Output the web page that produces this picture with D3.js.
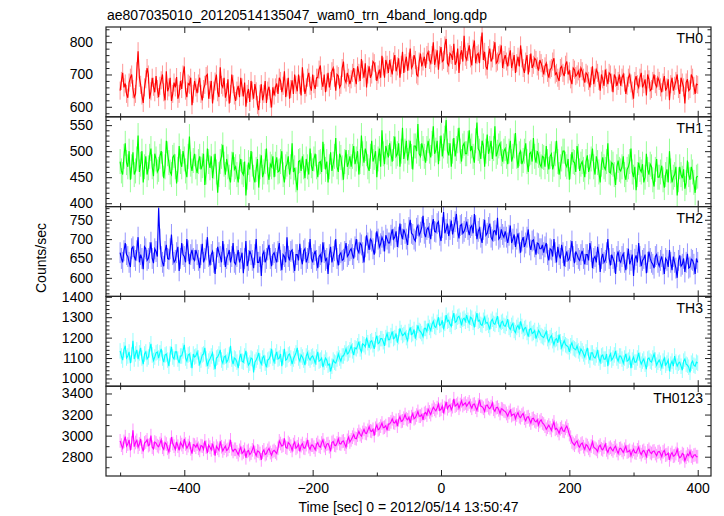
<!DOCTYPE html>
<html><head><meta charset="utf-8">
<script src="https://cdn.jsdelivr.net/npm/d3@7"></script>
<style>body{margin:0;background:#fff}svg{display:block}text{font-family:"Liberation Sans",Arial,Helvetica,sans-serif}</style>
</head><body><svg id="c" width="724" height="516"></svg>
<script>
const title = "ae807035010_20120514135047_wam0_trn_4band_long.qdp";
const xLabel = "Time [sec] 0 = 2012/05/14 13:50:47";
const yLabel = "Counts/sec";
const bandNames = ["TH0", "TH1", "TH2", "TH3", "TH0123"];
const bandColors = ["#ff0000", "#00ff00", "#0000ff", "#00ffff", "#ff00ff"];
const tStart = -500, tStep = 2;

const th0 = [
650,680,705,660,672,640,628,675,690,700,655,630,640,710,772,690,668,635,612,660,685,720,700,625,648,690,662,645,695,655,
630,665,682,700,645,620,710,648,660,690,618,640,675,660,692,625,640,680,655,700,725,650,630,672,668,690,605,640,680,660,
642,672,690,640,620,655,668,695,700,625,652,680,610,650,678,700,645,630,722,668,660,690,628,645,685,610,640,700,670,635,
618,650,665,630,690,660,632,675,600,640,655,615,680,650,625,670,648,605,590,640,670,620,640,680,612,650,662,625,598,660,
635,660,672,640,690,680,645,665,710,630,660,690,625,655,682,640,700,668,648,700,668,635,722,675,640,660,690,705,665,650,
700,670,655,690,690,715,728,680,662,700,645,675,705,660,680,710,720,690,650,700,695,660,668,720,740,685,675,705,690,670,
685,705,720,690,670,725,705,680,748,715,690,735,660,700,725,690,700,740,735,710,680,700,715,690,758,725,690,745,730,705,
745,720,700,740,760,710,725,750,690,730,770,705,735,755,712,740,780,720,728,760,745,700,695,740,765,725,740,755,720,760,
770,745,735,760,800,730,750,775,715,760,785,740,745,790,810,735,728,765,760,745,795,730,740,780,705,760,775,740,820,755,
745,770,790,750,728,780,805,735,760,765,735,790,830,745,770,725,715,760,780,740,750,775,800,735,740,760,765,790,720,745,
760,740,725,755,775,720,740,760,705,735,755,725,790,750,720,705,740,760,700,735,765,720,730,750,745,725,712,745,735,720,
700,725,735,705,690,715,720,740,750,700,705,690,680,720,725,705,695,730,740,700,710,685,670,720,715,695,700,710,690,720,
710,690,675,705,700,680,660,695,725,670,690,715,705,680,650,700,685,665,715,690,670,705,700,675,645,700,690,665,680,700,
665,690,700,675,640,665,690,700,672,650,625,680,695,670,660,690,705,660,670,685,635,700,685,650,655,680,700,670,662,690,
680,660,645,675,695,650,660,685,620,670,690,650,665,680,700,655,640,690,675,660,610,675,685,650,655,700,690,665,640,670,
668];
const th1 = [
480,462,455,490,515,478,470,500,445,470,498,455,462,485,530,460,475,500,440,470,490,455,468,490,505,470,452,495,485,460,
465,490,500,475,448,470,520,495,478,460,455,488,492,470,438,465,510,480,470,500,485,462,450,490,528,475,462,482,495,470,
458,480,490,465,472,495,435,460,505,480,468,490,448,470,495,460,420,455,480,490,512,475,455,485,470,450,440,475,498,465,
470,455,440,470,485,460,455,480,415,450,478,465,500,475,450,440,465,485,430,470,492,450,460,480,505,460,445,475,470,490,
450,475,488,460,462,480,500,455,440,470,475,490,455,470,515,460,468,445,425,480,482,462,490,470,448,485,470,455,505,472,
462,485,495,470,450,478,480,460,518,490,465,480,440,470,498,462,475,490,525,470,460,495,488,468,445,480,502,470,478,490,
470,490,510,475,485,500,455,480,530,495,478,505,495,470,462,490,520,480,488,500,450,485,505,470,540,495,475,510,498,488,
515,495,480,505,528,490,495,515,470,500,545,485,500,520,482,498,520,490,465,510,510,500,552,495,490,515,505,490,478,505,
520,500,488,515,548,495,502,520,475,505,530,490,510,525,560,500,492,515,470,500,525,490,505,520,545,500,480,510,515,495,
495,515,540,500,510,490,478,520,555,505,500,485,520,510,470,500,532,495,505,520,485,505,548,490,498,510,515,495,480,500,
505,490,475,500,520,480,490,510,535,490,468,495,500,475,482,500,515,480,460,495,498,480,525,490,478,500,492,475,470,490,
488,470,510,480,465,490,495,465,475,495,520,480,455,470,485,500,500,475,470,485,445,470,498,480,478,460,510,490,462,475,
480,465,450,480,492,460,470,485,505,470,455,490,478,460,440,475,488,470,465,480,515,460,458,478,475,455,435,470,482,465,
462,470,490,455,445,465,470,480,505,460,450,470,425,455,478,465,460,475,440,450,495,465,455,475,470,445,432,465,485,450,
450,460,472,445,430,455,465,440,500,462,440,450,455,470,415,445,470,455,448,465,428,440,482,455,445,470,460,440,420,450,
452];
const th2 = [
665,650,640,670,690,660,655,640,628,675,680,655,645,670,705,640,660,650,622,680,675,645,650,665,692,650,638,675,668,655,
780,700,655,640,630,668,685,650,648,675,712,660,640,645,665,680,618,650,690,660,655,640,700,670,635,660,672,650,645,672,
660,645,625,660,688,640,650,672,705,655,632,660,668,640,610,650,680,665,655,640,695,660,628,650,660,672,640,655,690,640,
635,655,672,640,650,665,612,650,695,630,645,670,660,645,625,660,700,640,640,655,605,660,668,640,650,672,685,650,630,660,
665,650,640,668,690,645,620,660,655,640,705,655,645,668,672,640,618,660,660,645,688,650,635,670,675,640,650,665,700,650,
640,660,670,645,625,655,660,640,692,665,645,650,610,660,680,640,655,670,700,650,632,660,665,645,648,668,690,655,660,670,
675,660,650,680,700,672,665,690,685,665,640,680,710,690,672,700,695,675,660,690,720,700,680,688,705,695,668,710,700,690,
690,710,725,700,705,720,680,705,740,712,700,725,715,700,685,730,750,715,712,700,695,728,735,710,718,730,760,715,705,725,
730,715,700,735,752,720,718,740,745,710,695,730,770,715,725,740,708,725,748,712,730,745,765,720,702,735,738,715,720,730,
745,725,710,730,735,715,765,735,700,720,728,705,690,725,750,710,715,730,740,705,698,720,722,710,755,700,705,725,712,705,
720,705,690,710,735,690,700,712,680,700,715,690,665,695,705,680,690,705,725,685,672,695,698,680,660,690,688,675,675,685,
665,680,690,660,645,675,672,655,700,665,640,680,660,650,685,665,630,655,668,645,650,670,695,655,638,668,660,650,645,660,
670,650,635,660,660,645,690,668,625,650,655,640,680,660,615,650,662,640,645,665,700,650,632,660,650,640,610,655,668,645,
640,655,662,640,620,650,675,635,645,660,605,648,658,640,690,655,630,645,650,660,612,640,668,650,640,635,625,655,660,640,
630,645,655,635,610,650,645,628,672,640,620,655,640,625,600,645,658,630,635,650,615,640,662,625,628,648,645,635,610,650,
640];
const th3 = [
1135,1110,1090,1140,1160,1100,1110,1130,1075,1115,1185,1095,1120,1140,1095,1125,1150,1100,1070,1120,1130,1095,1105,1140,1170,1115,1088,1105,1125,1130,
1100,1125,1145,1100,1080,1115,1120,1090,1060,1120,1155,1105,1095,1130,1130,1095,1075,1110,1110,1135,1165,1100,1085,1115,1120,1090,1050,1120,1105,1110,
1130,1100,1070,1090,1115,1120,1150,1095,1060,1085,1095,1110,1125,1080,1045,1100,1105,1120,1140,1090,1075,1105,1110,1080,1090,1115,1160,1095,1070,1100,
1095,1080,1050,1100,1120,1085,1080,1110,1135,1090,1065,1075,1100,1095,1030,1080,1090,1105,1125,1085,1070,1100,1110,1075,1055,1090,1095,1110,1145,1100,
1080,1110,1130,1095,1100,1120,1060,1105,1145,1090,1095,1115,1120,1100,1070,1095,1110,1125,1150,1100,1085,1115,1105,1090,1065,1110,1125,1100,1090,1105,
1110,1095,1075,1105,1130,1085,1090,1100,1055,1080,1100,1090,1065,1070,1035,1060,1090,1080,1075,1095,1120,1100,1085,1110,1110,1125,1145,1120,1125,1140,
1160,1135,1115,1150,1145,1160,1180,1145,1130,1170,1165,1155,1200,1175,1150,1180,1185,1165,1145,1190,1210,1170,1175,1195,1195,1180,1160,1200,1220,1190,
1190,1210,1230,1195,1200,1220,1175,1205,1245,1225,1210,1215,1225,1200,1185,1230,1250,1215,1220,1240,1195,1225,1260,1235,1230,1220,1205,1245,1245,1230,
1270,1250,1235,1265,1280,1255,1250,1275,1300,1260,1265,1285,1240,1270,1310,1280,1285,1265,1255,1295,1320,1275,1280,1300,1305,1285,1260,1290,1295,1280,
1310,1285,1270,1300,1295,1275,1250,1290,1320,1280,1285,1265,1260,1285,1300,1270,1275,1260,1240,1280,1290,1270,1265,1285,1305,1265,1250,1275,1280,1260,
1255,1270,1290,1250,1240,1260,1270,1235,1225,1250,1260,1240,1280,1255,1230,1245,1250,1225,1205,1240,1245,1220,1225,1235,1195,1215,1235,1225,1210,1205,
1200,1215,1230,1195,1180,1200,1210,1185,1165,1190,1195,1175,1215,1180,1150,1170,1185,1165,1160,1155,1130,1160,1175,1150,1145,1140,1160,1135,1120,1145,
1135,1120,1105,1130,1150,1110,1090,1125,1125,1105,1100,1115,1140,1100,1080,1110,1115,1095,1095,1120,1060,1105,1120,1090,1100,1115,1135,1100,1085,1110,
1110,1095,1075,1100,1120,1085,1090,1105,1050,1090,1105,1080,1080,1100,1125,1090,1070,1085,1095,1070,1045,1095,1100,1085,1080,1100,1120,1090,1065,1080,
1090,1075,1055,1085,1100,1065,1075,1090,1035,1070,1085,1060,1110,1080,1060,1075,1080,1060,1040,1085,1095,1070,1065,1055,1030,1075,1085,1065,1060,1080,
1075];
const th0123 = [
2950,2910,2880,2945,2990,2900,2920,2960,2860,2930,3050,2895,2935,2955,2890,2920,2970,2890,2850,2930,2940,2960,2905,2915,3000,2890,2875,2940,2930,2905,
2895,2925,2960,2890,2870,2935,2920,2880,2845,2910,2985,2925,2900,2870,2940,2900,2860,2935,2915,2890,2970,2920,2880,2905,2935,2875,2830,2915,2910,2890,
2920,2880,2860,2905,2900,2870,2950,2890,2835,2910,2890,2865,2925,2880,2810,2900,2880,2860,2945,2895,2855,2880,2900,2860,2870,2900,2960,2875,2850,2870,
2870,2845,2820,2860,2890,2830,2845,2870,2790,2850,2860,2820,2835,2865,2900,2840,2810,2855,2850,2830,2770,2845,2865,2820,2830,2860,2880,2840,2815,2850,
2860,2845,2830,2880,2950,2925,2900,2910,2975,2890,2880,2935,2920,2900,2860,2915,2940,2880,2895,2920,2850,2905,2925,2885,2880,2915,2960,2895,2870,2910,
2910,2890,2865,2915,2935,2900,2890,2930,2960,2905,2880,2920,2925,2895,2850,2935,2945,2910,2905,2930,2970,2925,2920,2945,2950,2920,2890,2955,2985,2940,
2960,2985,3010,2975,2970,3005,3040,3010,2995,3030,3060,3025,3020,3050,3085,3045,3040,3060,3000,3070,3100,3055,3065,3090,3120,3075,3080,3095,3050,3110,
3110,3130,3160,3125,3120,3145,3090,3150,3180,3135,3140,3165,3200,3160,3150,3175,3120,3180,3210,3160,3170,3195,3230,3185,3185,3200,3150,3210,3220,3195,
3250,3225,3200,3240,3270,3250,3235,3265,3300,3240,3250,3280,3210,3265,3320,3255,3280,3290,3245,3275,3350,3280,3290,3305,3260,3295,3330,3285,3300,3310,
3280,3300,3320,3285,3260,3295,3300,3270,3240,3290,3340,3280,3275,3260,3230,3285,3290,3265,3255,3275,3310,3250,3230,3265,3270,3245,3210,3255,3250,3235,
3230,3210,3185,3220,3240,3190,3200,3205,3160,3195,3220,3180,3170,3195,3210,3165,3140,3175,3180,3150,3120,3160,3165,3140,3130,3150,3100,3135,3150,3120,
3110,3090,3060,3080,3100,3075,3050,3095,3130,3060,3070,3050,3020,3065,3080,3045,3040,3070,3090,3055,3010,2985,2940,2925,2910,2935,2950,2905,2890,2920,
2930,2895,2870,2915,2905,2880,2860,2900,2940,2890,2880,2870,2850,2895,2910,2875,2865,2890,2920,2865,2840,2880,2890,2870,2855,2885,2900,2860,2830,2875,
2880,2860,2840,2870,2900,2845,2850,2860,2810,2850,2870,2840,2835,2865,2890,2845,2820,2850,2860,2835,2800,2855,2870,2840,2830,2850,2855,2830,2810,2845,
2850,2830,2800,2845,2860,2815,2820,2835,2770,2820,2840,2805,2810,2830,2870,2815,2790,2800,2830,2820,2760,2795,2825,2810,2850,2805,2790,2815,2820,2800,
2800];
const bandErrors = [28, 24, 27, 38, 65];

const yDomains = [[569, 847], [393.5, 566], [552, 784], [962, 1402], [2617, 3469]];
const yMajorTicks = [[600, 700, 800], [400, 450, 500, 550], [600, 650, 700, 750], [1000, 1100, 1200, 1300, 1400], [2800, 3000, 3200, 3400]];
const yMinorStep = [20, 10, 10, 20, 100];
const xDomain = [-522, 420.7];
const xMajorTicks = [-400, -200, 0, 200, 400];
const xMinorTicks = [-500, -300, -100, 100, 300];

const series = [th0, th1, th2, th3, th0123];

const L = 106, R = 711, T = 27, PH = 89.8;
const svg = d3.select("#c");
const x = d3.scaleLinear().domain(xDomain).range([L, R]);
const FS = "14px";
const FF = '"Liberation Sans",Arial,Helvetica,sans-serif';

svg.append("text").attr("x", 107).attr("y", 19.5).attr("font-size", FS).attr("fill", "#000").text(title);

series.forEach((vals, k) => {
  const top = T + k * PH, bot = top + PH;
  const y = d3.scaleLinear().domain(yDomains[k]).range([bot, top]);
  const col = bandColors[k];
  const err = bandErrors[k];
  const clipId = "clip" + k;
  svg.append("clipPath").attr("id", clipId).append("rect")
    .attr("x", L).attr("y", top).attr("width", R - L).attr("height", PH);
  const data = vals.map((v, i) => ({t: tStart + i * tStep, v}));
  const dg = svg.append("g").attr("clip-path", `url(#${clipId})`);
  dg.selectAll("line.eb").data(data).join("line").attr("class", "eb")
    .attr("x1", d => x(d.t)).attr("x2", d => x(d.t))
    .attr("y1", d => y(d.v - err)).attr("y2", d => y(d.v + err))
    .attr("stroke", col).attr("stroke-opacity", 0.42).attr("stroke-width", 1);
  dg.append("path").datum(data)
    .attr("d", d3.line().x(d => x(d.t)).y(d => y(d.v)))
    .attr("fill", "none").attr("stroke", col).attr("stroke-width", 1.15);

  const [d0, d1] = yDomains[k];
  const minor = d3.range(Math.ceil(d0 / yMinorStep[k]) * yMinorStep[k], d1, yMinorStep[k])
    .filter(v => !yMajorTicks[k].includes(v));
  const ax = (gen, tr, tv, size, labels) => {
    const a = svg.append("g").attr("transform", tr)
      .call(gen.tickValues(tv).tickSize(size).tickPadding(13)
        .tickFormat(labels ? (d => d3.format("d")(d).replace("-", "\u2212")) : ""));
    a.select(".domain").remove();
    a.selectAll("line").attr("stroke", "#222").attr("stroke-width", 1);
    a.selectAll("text").attr("font-size", FS).attr("fill", "#000").attr("font-family", FF);
    return a;
  };
  ax(d3.axisLeft(y), `translate(${L},0)`, yMajorTicks[k], -6, true);
  ax(d3.axisLeft(y), `translate(${L},0)`, minor, -3.5, false);
  ax(d3.axisRight(y), `translate(${R},0)`, yMajorTicks[k], -6, false);
  ax(d3.axisRight(y), `translate(${R},0)`, minor, -3.5, false);
  ax(d3.axisTop(x), `translate(0,${top})`, xMajorTicks, -6, false);
  ax(d3.axisTop(x), `translate(0,${top})`, xMinorTicks, -3.5, false);
  const isLast = k === series.length - 1;
  const bx = ax(d3.axisBottom(x), `translate(0,${bot})`, xMajorTicks, -6, isLast);
  if (isLast) bx.selectAll("text").attr("dy", "0").attr("y", 17);
  ax(d3.axisBottom(x), `translate(0,${bot})`, xMinorTicks, -3.5, false);

  svg.append("rect").attr("x", L).attr("y", top).attr("width", R - L).attr("height", PH)
    .attr("fill", "none").attr("stroke", "#222").attr("stroke-width", 1.2);
  svg.append("text").attr("x", 703).attr("y", top + 16.3).attr("text-anchor", "end")
    .attr("font-size", FS).attr("fill", "#000").text(bandNames[k]);
});

svg.append("text").attr("transform", `translate(46,258) rotate(-90)`)
  .attr("text-anchor", "middle").attr("font-size", FS).attr("fill", "#000").text(yLabel);
svg.append("text").attr("x", (L + R) / 2).attr("y", 512).attr("text-anchor", "middle")
  .attr("font-size", FS).attr("fill", "#000").text(xLabel);
</script></body></html>
